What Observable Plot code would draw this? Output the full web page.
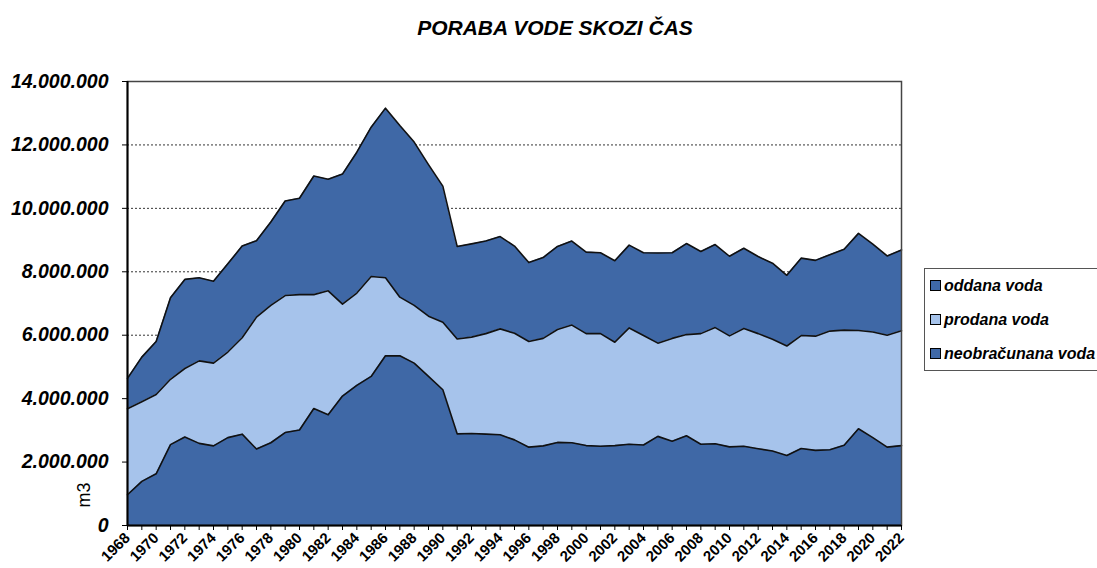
<!DOCTYPE html>
<html>
<head>
<meta charset="utf-8">
<script src="https://cdn.jsdelivr.net/npm/d3@7"></script>
<script src="https://cdn.jsdelivr.net/npm/@observablehq/plot@0.6"></script>
<style>
  html, body { margin: 0; padding: 0; background: #fff; }
  #wrap { position: relative; width: 1097px; height: 568px; overflow: hidden; font-family: "Liberation Sans", Arial, sans-serif; }
  #title { position: absolute; left: 0; width: 1110px; top: 16px; text-align: center; font-size: 21px; font-weight: bold; font-style: italic; color: #000; }
  #ylabel { position: absolute; left: 84px; top: 495px; transform: translate(-50%, -50%) rotate(-90deg); font-size: 18px; color: #000; }
  #legend { position: absolute; left: 924px; top: 268px; width: 190px; height: 103px; border: 1px solid #555; box-sizing: border-box; }
  .li { position: absolute; left: 5px; font-size: 16px; font-weight: bold; font-style: italic; line-height: 18px; white-space: nowrap; }
  .sw { display: inline-block; width: 9px; height: 9px; border: 1px solid #000; margin-right: 3px; vertical-align: 0px; }
  #chart { position: absolute; left: 0; top: 0; }
</style>
</head>
<body>
<div id="wrap">
  <div id="chart"></div>
  <div id="title">PORABA VODE SKOZI ČAS</div>
  <div id="ylabel">m3</div>
  <div id="legend"></div>
</div>
<script>
const years = [1968,1969,1970,1971,1972,1973,1974,1975,1976,1977,1978,1979,1980,1981,1982,1983,1984,1985,1986,1987,1988,1989,1990,1991,1992,1993,1994,1995,1996,1997,1998,1999,2000,2001,2002,2003,2004,2005,2006,2007,2008,2009,2010,2011,2012,2013,2014,2015,2016,2017,2018,2019,2020,2021,2022];

const oddana = [4640000,5310000,5800000,7180000,7760000,7810000,7700000,8250000,8810000,8980000,9570000,10230000,10320000,11020000,10920000,11080000,11770000,
  12560000,13160000,12610000,12090000,11380000,10700000,8800000,8880000,8970000,9110000,8810000,8290000,8450000,8800000,
  8970000,8620000,8600000,8350000,8840000,8600000,8590000,8600000,8890000,8640000,8860000,8490000,8740000,
  8480000,8270000,7890000,8430000,8360000,8540000,8710000,9210000,8870000,8500000,8690000];

const prodana = [3680000,3900000,4130000,4610000,4950000,5190000,5120000,5470000,5920000,6570000,6940000,7250000,7280000,7280000,7400000,6980000,7330000,
  7850000,7810000,7200000,6940000,6600000,6410000,5880000,5940000,6050000,6200000,6060000,5800000,5900000,6180000,
  6320000,6050000,6050000,5780000,6230000,5990000,5750000,5900000,6020000,6050000,6240000,5980000,6210000,
  6050000,5870000,5660000,5990000,5970000,6130000,6160000,6150000,6100000,6000000,6140000];

const neobracunana = [970000,1390000,1630000,2550000,2790000,2590000,2510000,2770000,2880000,2410000,2610000,2930000,3010000,3690000,3490000,4080000,4420000,
  4700000,5350000,5350000,5120000,4700000,4280000,2890000,2900000,2880000,2860000,2700000,2470000,2510000,2620000,
  2610000,2520000,2500000,2520000,2560000,2540000,2810000,2660000,2830000,2560000,2580000,2480000,2500000,
  2420000,2350000,2210000,2430000,2370000,2390000,2530000,3050000,2770000,2470000,2520000];

const seriesNames = ["oddana voda", "prodana voda", "neobračunana voda"];
const seriesColors = ["#3F68A6", "#A6C3EB", "#3F68A6"];
const yTicks = [0,2000000,4000000,6000000,8000000,10000000,12000000,14000000];
const xLabelYears = [1968,1970,1972,1974,1976,1978,1980,1982,1984,1986,1988,1990,1992,1994,1996,1998,2000,2002,2004,2006,2008,2010,2012,2014,2016,2018,2020,2022];

const seriesValues = [oddana, prodana, neobracunana];
const tables = seriesValues.map(vals => years.map((y, i) => ({year: y, value: vals[i]})));

const fmt = v => v === 0 ? "0" : d3.format(",")(v).replace(/,/g, ".");

const marks = [
  Plot.gridY(yTicks.slice(1, -1), {stroke: "#000", strokeOpacity: 1, strokeWidth: 0.8, strokeDasharray: "2,2"})
];
tables.forEach((t, i) => {
  marks.push(Plot.areaY(t, {x: "year", y: "value", fill: seriesColors[i], fillOpacity: 1}));
  marks.push(Plot.lineY(t, {x: "year", y: "value", stroke: "#111", strokeWidth: 1.6}));
});
marks.push(Plot.frame({stroke: "#444", strokeWidth: 1.5}));
marks.push(Plot.ruleX([1968], {stroke: "#000", strokeWidth: 2}));
marks.push(Plot.ruleY([0], {stroke: "#000", strokeWidth: 2}));
marks.push(Plot.axisY(yTicks, {tickSize: 5, tickPadding: 14, tickFormat: fmt, fontSize: 19.5, fontWeight: "bold", fontStyle: "italic", label: null}));
marks.push(Plot.axisX(years, {tickSize: 5, tickFormat: () => "", label: null}));
marks.push(Plot.axisX(xLabelYears, {tickSize: 0, tickPadding: 10, tickRotate: -45, tickFormat: d => String(d), fontSize: 15, fontWeight: "bold", label: null}));

const chart = Plot.plot({
  width: 1097,
  height: 568,
  marginLeft: 127,
  marginRight: 196,
  marginTop: 81,
  marginBottom: 43,
  style: {fontFamily: "'Liberation Sans', Arial, sans-serif", color: "#000", background: "#fff"},
  x: {domain: [1968, 2022]},
  y: {domain: [0, 14000000]},
  marks
});
document.getElementById("chart").appendChild(chart);

const legend = document.getElementById("legend");
const legendTops = [8, 42, 76];
seriesNames.forEach((n, i) => {
  const d = document.createElement("div");
  d.className = "li";
  d.style.top = legendTops[i] + "px";
  d.innerHTML = `<span class="sw" style="background:${seriesColors[i]}"></span>`;
  d.appendChild(document.createTextNode(n));
  legend.appendChild(d);
});
</script>
</body>
</html>
